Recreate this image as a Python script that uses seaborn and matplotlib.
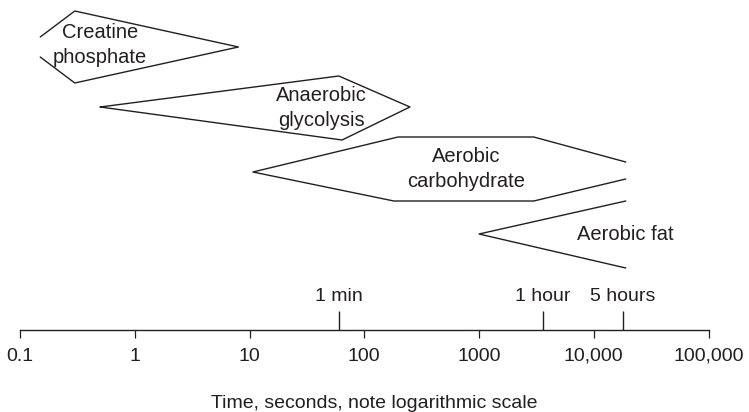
import pandas as pd
import matplotlib.pyplot as plt
import seaborn as sns

# Energy systems: polygon outlines
# x = time in seconds (log scale), y = row position (0 at top)
creatine_x = [0.15, 0.3, 8, 0.3, 0.15]
creatine_y = [37, 11, 47, 83, 57]

anaerobic_x = [0.5, 60, 250, 64, 0.5]
anaerobic_y = [107, 76, 107, 140, 107]

aerobic_carb_x = [19000, 3000, 197, 10.7, 181, 3000, 19000]
aerobic_carb_y = [162, 137, 137, 172, 201, 201, 179]

aerobic_fat_x = [19000, 1000, 19000]
aerobic_fat_y = [201, 234, 268]

# text labels for each shape
label_text = ['Creatine\nphosphate', 'Anaerobic\nglycolysis', 'Aerobic\ncarbohydrate', 'Aerobic fat']
label_x = [0.5, 42, 770, 7100]
label_y = [45, 108, 169, 235]
label_ha = ['center', 'center', 'center', 'left']

# reference marks above the axis
mark_x = [60, 3600, 18000]
mark_text = ['1 min', '1 hour', '5 hours']

tick_values = [0.1, 1, 10, 100, 1000, 10000, 100000]
tick_labels = ['0.1', '1', '10', '100', '1000', '10,000', '100,000']

ink = '#231f20'

shapes = []
for name, xs, ys in [('creatine', creatine_x, creatine_y),
                     ('anaerobic', anaerobic_x, anaerobic_y),
                     ('aerobic_carb', aerobic_carb_x, aerobic_carb_y),
                     ('aerobic_fat', aerobic_fat_x, aerobic_fat_y)]:
    for i, (x, y) in enumerate(zip(xs, ys)):
        shapes.append({'shape': name, 'order': i, 'time': x, 'row': y})
df = pd.DataFrame(shapes)

# style
sns.set_theme(style='white')
plt.rcParams['font.family'] = ['Liberation Sans', 'DejaVu Sans']

fig = plt.figure(figsize=(7.49, 4.12), dpi=100)
ax = fig.add_axes([0, 82 / 412, 1, 330 / 412])

sns.lineplot(ax=ax, data=df, x='time', y='row', units='shape', estimator=None,
             sort=False, color=ink, linewidth=1.0)

ax.set_xscale('log')
ax.set_xlim(0.0669, 225400)
ax.set_ylim(330, 0)

for t, x, y, ha in zip(label_text, label_x, label_y, label_ha):
    ax.text(x, y, t, ha=ha, va='center', fontsize=14.5, color=ink, linespacing=1.4)

ax.vlines(mark_x, 311, 330, color=ink, linewidth=1.0)
for x, t in zip(mark_x, mark_text):
    ax.text(x, 301, t, ha='center', va='baseline', fontsize=14, color=ink)

# axis
for side in ['left', 'right', 'top']:
    ax.spines[side].set_visible(False)
ax.spines['bottom'].set_bounds(0.1, 100000)
ax.spines['bottom'].set_color(ink)
ax.spines['bottom'].set_linewidth(1.0)
ax.set_xticks(tick_values)
ax.set_xticklabels(tick_labels)
ax.minorticks_off()
ax.tick_params(axis='x', which='major', bottom=True, direction='out', length=5.8,
               width=0.9, color=ink, labelsize=14, labelcolor=ink, pad=7)
ax.set_yticks([])
ax.set_ylabel(None)
ax.set_xlabel('Time, seconds, note logarithmic scale', fontsize=14, color=ink, labelpad=22)

plt.savefig('out.png', dpi=100)
